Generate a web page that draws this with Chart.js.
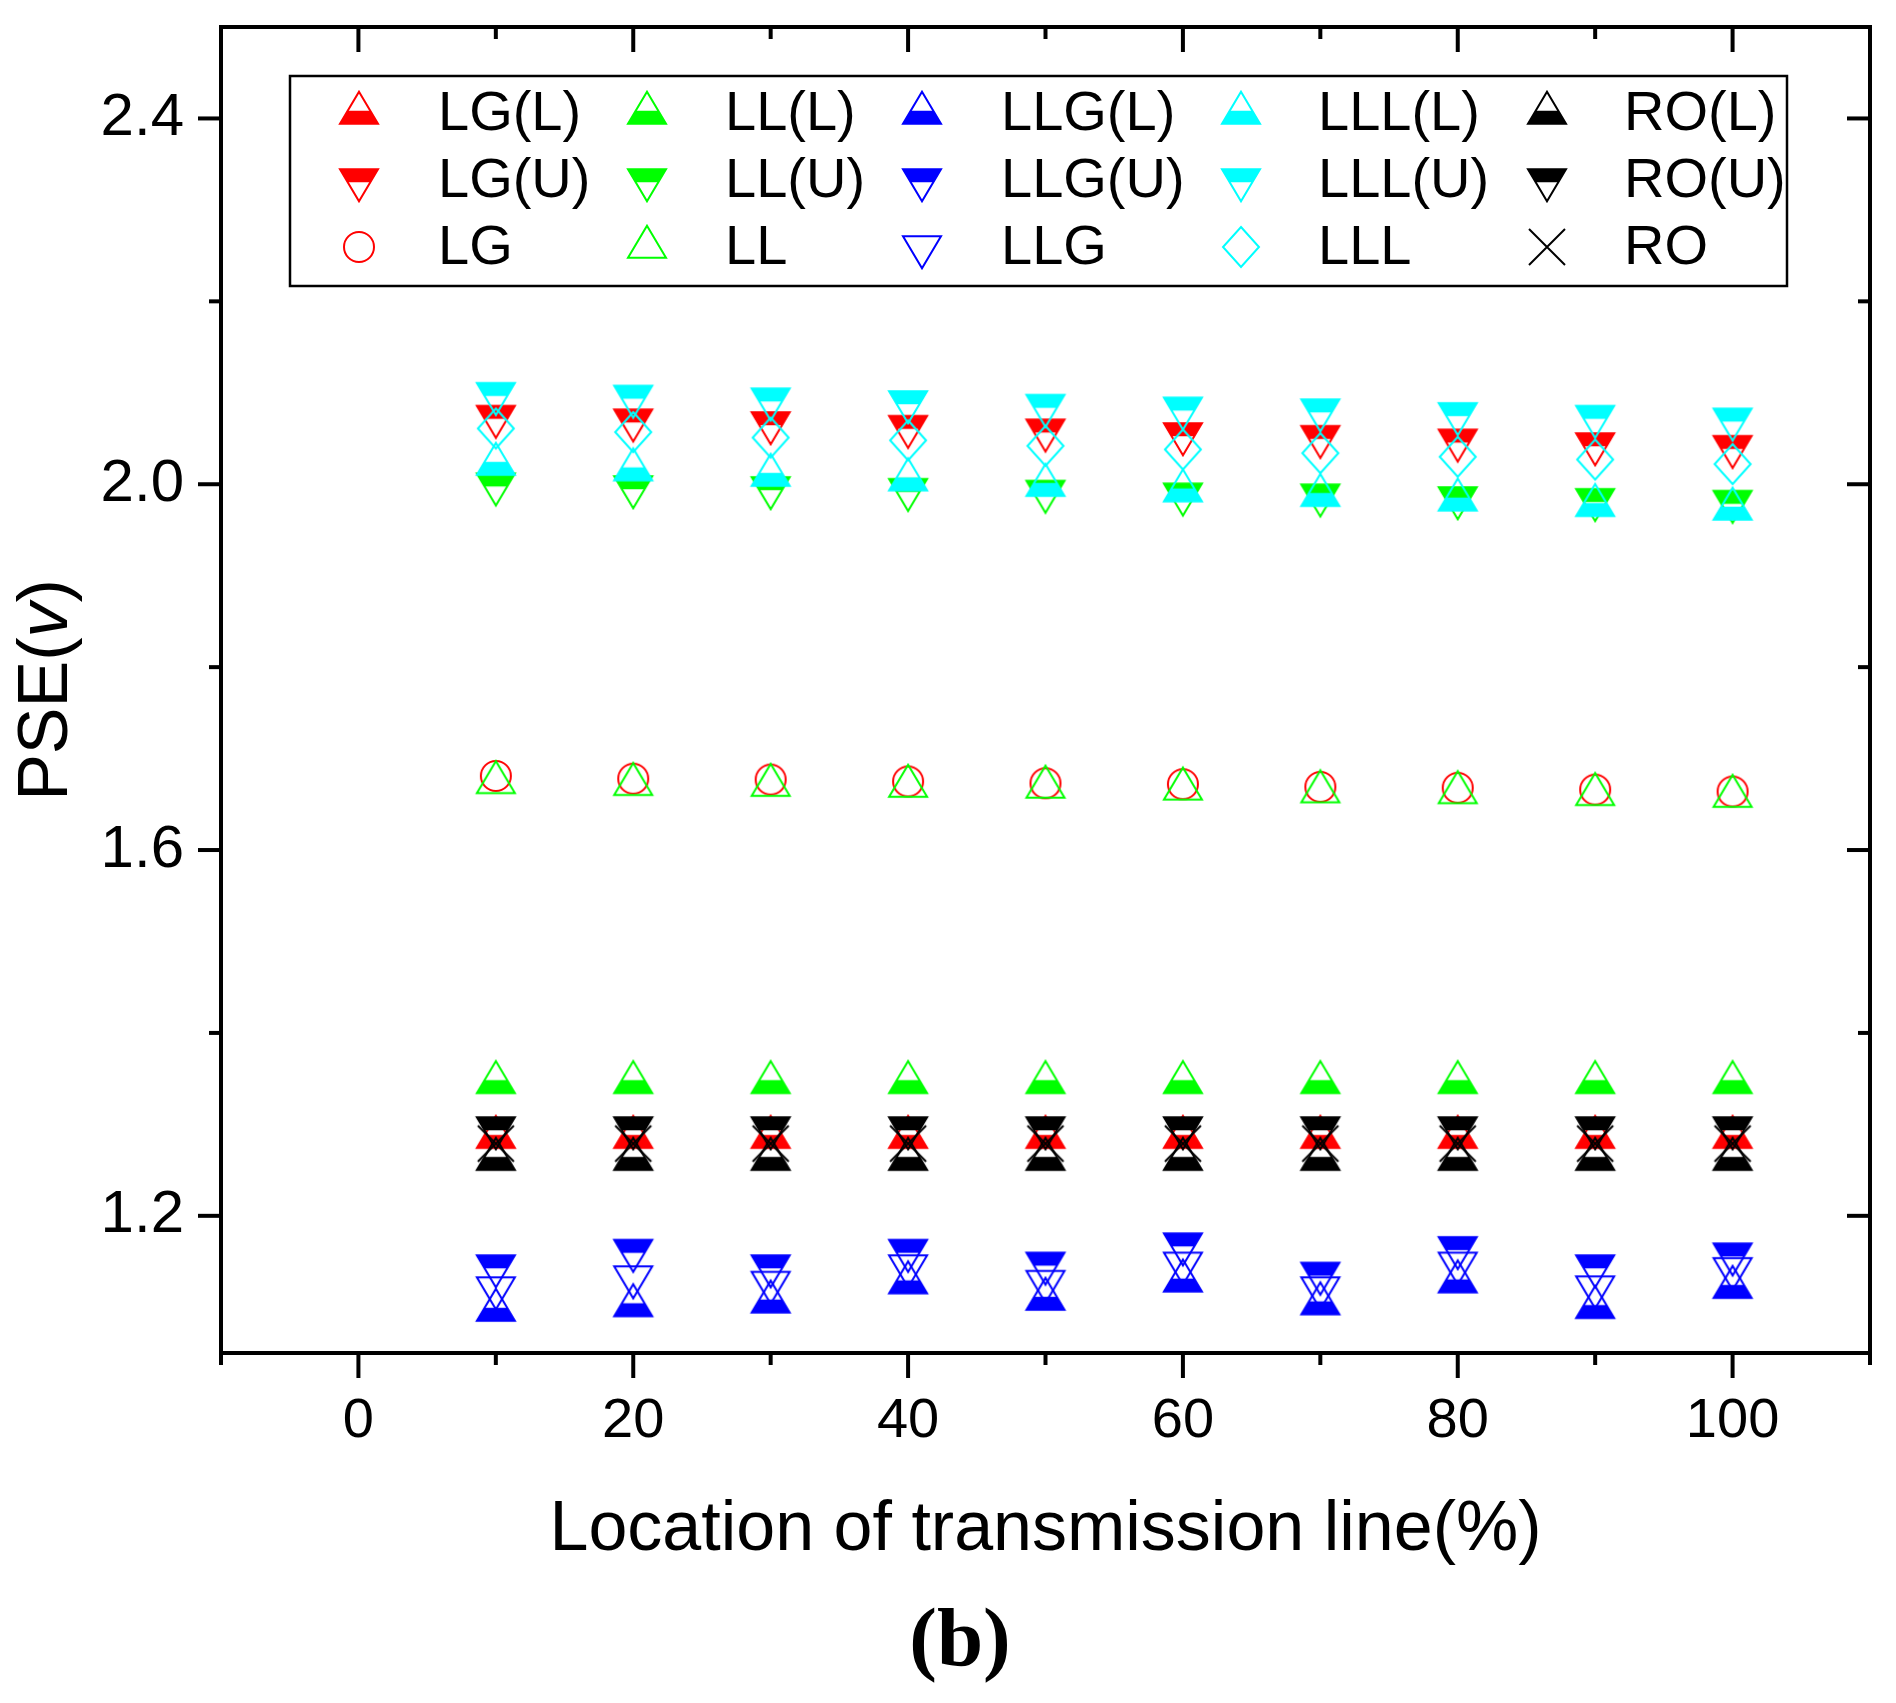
<!DOCTYPE html>
<html>
<head>
<meta charset="utf-8">
<title>PSE vs location of transmission line (b)</title>
<script src="https://cdn.jsdelivr.net/npm/chart.js@4.4.1/dist/chart.umd.min.js"></script>
<style>
  html, body { margin: 0; padding: 0; background: #fff; }
  #wrap { width: 1896px; height: 1703px; }
</style>
</head>
<body>
<div id="wrap"><canvas id="pse-chart" width="1896" height="1703"></canvas></div>
<script>
// fault location along the line (%)
const xLocations = [10, 20, 30, 40, 50, 60, 70, 80, 90, 100];

// PSE values, one array per series
const lgLower  = [1.286, 1.286, 1.286, 1.286, 1.286, 1.286, 1.286, 1.286, 1.286, 1.286];
const lgUpper  = [2.074, 2.070, 2.067, 2.063, 2.059, 2.055, 2.052, 2.048, 2.044, 2.041];
const lgPse    = [1.681, 1.678, 1.677, 1.675, 1.673, 1.672, 1.669, 1.668, 1.666, 1.664];
const llLower  = [1.346, 1.346, 1.346, 1.346, 1.346, 1.346, 1.346, 1.346, 1.346, 1.346];
const llUpper  = [2.000, 1.997, 1.996, 1.994, 1.992, 1.989, 1.988, 1.985, 1.983, 1.981];
const llPse    = [1.674, 1.672, 1.671, 1.670, 1.669, 1.667, 1.664, 1.663, 1.661, 1.659];
const llgLower = [1.097, 1.102, 1.106, 1.127, 1.109, 1.129, 1.104, 1.128, 1.100, 1.122];
const llgUpper = [1.145, 1.162, 1.145, 1.162, 1.148, 1.169, 1.137, 1.165, 1.145, 1.158];
const llgPse   = [1.121, 1.133, 1.127, 1.145, 1.128, 1.148, 1.121, 1.148, 1.122, 1.142];
const lllLower = [2.022, 2.016, 2.010, 2.005, 1.999, 1.993, 1.988, 1.983, 1.977, 1.973];
const lllUpper = [2.099, 2.096, 2.093, 2.090, 2.086, 2.083, 2.081, 2.077, 2.074, 2.071];
const lllPse   = [2.061, 2.057, 2.051, 2.048, 2.042, 2.038, 2.034, 2.030, 2.027, 2.022];
const roLower  = [1.262, 1.262, 1.262, 1.262, 1.262, 1.262, 1.262, 1.262, 1.262, 1.262];
const roUpper  = [1.296, 1.296, 1.296, 1.296, 1.296, 1.296, 1.296, 1.296, 1.296, 1.296];
const roPse    = [1.279, 1.279, 1.279, 1.279, 1.279, 1.279, 1.279, 1.279, 1.279, 1.279];

const seriesNames = ['LG(L)', 'LG(U)', 'LG', 'LL(L)', 'LL(U)', 'LL', 'LLG(L)', 'LLG(U)', 'LLG',
                     'LLL(L)', 'LLL(U)', 'LLL', 'RO(L)', 'RO(U)', 'RO'];
const seriesValues = [lgLower, lgUpper, lgPse, llLower, llUpper, llPse, llgLower, llgUpper, llgPse,
                      lllLower, lllUpper, lllPse, roLower, roUpper, roPse];
const seriesColors = ['#ff0000', '#ff0000', '#ff0000', '#00ff00', '#00ff00', '#00ff00',
                      '#0000ff', '#0000ff', '#0000ff', '#00ffff', '#00ffff', '#00ffff',
                      '#000000', '#000000', '#000000'];
const seriesMarkers = ['halfUp', 'halfDown', 'circle', 'halfUp', 'halfDown', 'openUp',
                       'halfUp', 'halfDown', 'openDown', 'halfUp', 'halfDown', 'diamond',
                       'halfUp', 'halfDown', 'cross'];

// axis ticks
const xTickValues = [-10, 0, 10, 20, 30, 40, 50, 60, 70, 80, 90, 100, 110];
const xLabelValues = [0, 20, 40, 60, 80, 100];
const yTickValues = [1.2, 1.4, 1.6, 1.8, 2.0, 2.2, 2.4];
const yLabelValues = [1.2, 1.6, 2.0, 2.4];

const FONT = 'Arial, "Liberation Sans", sans-serif';

function isLabelled(list, v) {
  return list.some(t => Math.abs(t - v) < 1e-6);
}

// Origin-like markers: triangles are centred on their centroid
function makeMarker(kind, color) {
  const W = 38, H = 32;
  const c = document.createElement('canvas');
  c.width = 48; c.height = 52;
  const g = c.getContext('2d');
  const cx = 24, cy = 26;
  g.strokeStyle = color;
  g.fillStyle = color;
  g.lineWidth = 2;

  if (kind === 'halfUp' || kind === 'openUp') {
    const top = cy - 2 * H / 3, base = cy + H / 3;
    const tri = () => { g.beginPath(); g.moveTo(cx, top); g.lineTo(cx + W / 2, base); g.lineTo(cx - W / 2, base); g.closePath(); };
    if (kind === 'halfUp') {
      g.save(); g.beginPath(); g.rect(0, base - 0.4 * H, c.width, c.height); g.clip();
      tri(); g.fill(); g.restore();
    }
    tri(); g.stroke();
  } else if (kind === 'halfDown' || kind === 'openDown') {
    const top = cy - H / 3, tip = cy + 2 * H / 3;
    const tri = () => { g.beginPath(); g.moveTo(cx - W / 2, top); g.lineTo(cx + W / 2, top); g.lineTo(cx, tip); g.closePath(); };
    if (kind === 'halfDown') {
      g.save(); g.beginPath(); g.rect(0, 0, c.width, top + 0.4 * H); g.clip();
      tri(); g.fill(); g.restore();
    }
    tri(); g.stroke();
  } else if (kind === 'circle') {
    g.beginPath(); g.arc(cx, cy, 15, 0, Math.PI * 2); g.stroke();
  } else if (kind === 'diamond') {
    g.beginPath();
    g.moveTo(cx, cy - 20); g.lineTo(cx + 18, cy); g.lineTo(cx, cy + 20); g.lineTo(cx - 18, cy);
    g.closePath(); g.stroke();
  } else if (kind === 'cross') {
    g.beginPath();
    g.moveTo(cx - 18, cy - 18); g.lineTo(cx + 18, cy + 18);
    g.moveTo(cx + 18, cy - 18); g.lineTo(cx - 18, cy + 18);
    g.stroke();
  }
  return c;
}

const markerImages = seriesMarkers.map((m, i) => makeMarker(m, seriesColors[i]));

const datasets = seriesNames.map((name, i) => ({
  label: name,
  data: xLocations.map((x, j) => ({ x, y: seriesValues[i][j] })),
  pointStyle: markerImages[i],
  pointRadius: 16,
  pointHoverRadius: 16,
  showLine: false,
  // later series drawn on top, as in the original
  order: seriesNames.length - i
}));

// keep the plot box fixed: no extra room for end labels
function noEdgePadding(axis) {
  axis.paddingLeft = 0;
  axis.paddingRight = 0;
  axis.paddingTop = 0;
  axis.paddingBottom = 0;
}

/* -------- frame, ticks, y title, caption, legend -------- */
const decorPlugin = {
  id: 'decor',
  afterDraw(chart) {
    const { ctx, chartArea: a, scales: { x, y } } = chart;
    ctx.save();
    ctx.strokeStyle = '#000';
    ctx.lineCap = 'butt';

    // ticks: outward on left/bottom, inward on top/right
    ctx.lineWidth = 4;
    const line = (x1, y1, x2, y2) => { ctx.beginPath(); ctx.moveTo(x1, y1); ctx.lineTo(x2, y2); ctx.stroke(); };
    x.ticks.forEach(t => {
      const px = x.getPixelForValue(t.value);
      const len = isLabelled(xLabelValues, t.value) ? 25 : 12;
      line(px, a.bottom, px, a.bottom + len);
      line(px, a.top, px, a.top + len);
    });
    y.ticks.forEach(t => {
      const py = y.getPixelForValue(t.value);
      const len = isLabelled(yLabelValues, t.value) ? 23 : 12;
      line(a.left, py, a.left - len, py);
      line(a.right, py, a.right - len, py);
    });

    // frame
    ctx.lineWidth = 4;
    ctx.strokeRect(a.left, a.top, a.right - a.left, a.bottom - a.top);

    // y axis title: PSE(v) with italic v
    ctx.fillStyle = '#000';
    ctx.translate(48, 690);
    ctx.rotate(-Math.PI / 2);
    ctx.textBaseline = 'middle';
    ctx.textAlign = 'left';
    const parts = [['PSE(', 'normal'], ['v', 'italic'], [')', 'normal']];
    let total = 0;
    parts.forEach(p => { ctx.font = p[1] + ' 70px ' + FONT; total += ctx.measureText(p[0]).width; });
    let tx = -total / 2;
    parts.forEach(p => { ctx.font = p[1] + ' 70px ' + FONT; ctx.fillText(p[0], tx, 0); tx += ctx.measureText(p[0]).width; });
    ctx.setTransform(1, 0, 0, 1, 0, 0);

    // caption
    ctx.font = 'bold 83px "Liberation Serif", "Times New Roman", serif';
    ctx.textAlign = 'center';
    ctx.textBaseline = 'alphabetic';
    ctx.fillText('(b)', 960, 1665);

    // legend box, items column by column
    const colMarkerX = [359, 647, 922, 1241, 1547];
    const colTextX = [438, 725, 1001, 1318, 1624];
    const rowY = [113, 180, 247];
    ctx.fillStyle = '#fff';
    ctx.fillRect(290, 76, 1497, 210);
    ctx.lineWidth = 2.5;
    ctx.strokeRect(290, 76, 1497, 210);
    ctx.fillStyle = '#000';
    ctx.font = '56px ' + FONT;
    ctx.textAlign = 'left';
    ctx.textBaseline = 'middle';
    seriesNames.forEach((name, i) => {
      const col = Math.floor(i / 3), row = i % 3;
      const img = markerImages[i];
      ctx.drawImage(img, colMarkerX[col] - img.width / 2, rowY[row] - img.height / 2);
      ctx.fillText(name, colTextX[col], rowY[row] + 2);
    });
    ctx.restore();
  }
};

new Chart(document.getElementById('pse-chart'), {
  type: 'scatter',
  data: { datasets },
  options: {
    responsive: false,
    animation: false,
    devicePixelRatio: 1,
    layout: { padding: { left: 0, top: 27, right: 26, bottom: 0 } },
    plugins: { legend: { display: false }, tooltip: { enabled: false } },
    scales: {
      x: {
        type: 'linear',
        min: -10,
        max: 110,
        afterBuildTicks: axis => { axis.ticks = xTickValues.map(v => ({ value: v })); },
        afterFit: axis => { axis.height = 350; noEdgePadding(axis); },
        grid: { display: false, drawTicks: false },
        border: { display: false },
        ticks: {
          color: '#000',
          font: { family: FONT, size: 56 },
          padding: 35,
          maxRotation: 0,
          autoSkip: false,
          callback: v => isLabelled(xLabelValues, v) ? String(v) : ''
        },
        title: {
          display: true,
          text: 'Location of transmission line(%)',
          color: '#000',
          font: { family: FONT, size: 70 },
          padding: { top: 0, bottom: 130 }
        }
      },
      y: {
        type: 'linear',
        min: 1.05,
        max: 2.5,
        afterBuildTicks: axis => { axis.ticks = yTickValues.map(v => ({ value: v })); },
        afterFit: axis => { axis.width = 221; noEdgePadding(axis); },
        grid: { display: false, drawTicks: false },
        border: { display: false },
        ticks: {
          color: '#000',
          font: { family: FONT, size: 60 },
          padding: 37,
          autoSkip: false,
          callback: v => isLabelled(yLabelValues, v) ? v.toFixed(1) : ''
        }
      }
    }
  },
  plugins: [decorPlugin]
});
</script>
</body>
</html>
